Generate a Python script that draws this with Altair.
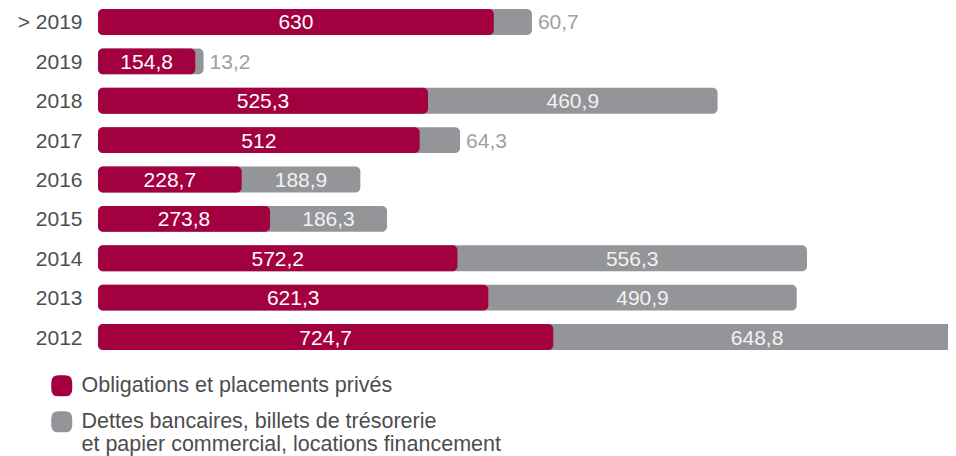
import altair as alt
import pandas as pd

categories = ["> 2019", "2019", "2018", "2017", "2016", "2015", "2014", "2013", "2012"]
obligations = [630, 154.8, 525.3, 512, 228.7, 273.8, 572.2, 621.3, 724.7]
dettes = [60.7, 13.2, 460.9, 64.3, 188.9, 186.3, 556.3, 490.9, 648.8]

S1 = "Obligations et placements privés"
S2 = "Dettes bancaires, billets de trésorerie\net papier commercial, locations financement"
RED = "#A3003F"
GREY = "#949599"
FONT = "Liberation Sans"


def fr(v):
    return f"{v:g}".replace(".", ",")


wide = pd.DataFrame({
    "cat": categories,
    "oblig": obligations,
    "dettes": dettes,
    "lab_o": [fr(v) for v in obligations],
    "lab_d": [fr(v) for v in dettes],
})

rows = []
for c, o, d in zip(categories, obligations, dettes):
    rows.append({"cat": c, "serie": S2, "xend": o + d})
for c, o, d in zip(categories, obligations, dettes):
    rows.append({"cat": c, "serie": S1, "xend": o})
long = pd.DataFrame(rows)

xscale = alt.Scale(domain=[0, 1353], nice=False, zero=True)
yenc = alt.Y("cat:N", sort=categories,
             scale=alt.Scale(paddingInner=0.34, paddingOuter=0),
             axis=alt.Axis(title=None, domain=False, ticks=False, labelPadding=16,
                           labelOffset=1.5,
                           labelFontSize=21, labelColor="#4d4d4d", labelFont=FONT))

SYMBOL = ("M -0.3 -1 H 0.3 Q 1 -1 1 -0.3 V 0.3 Q 1 1 0.3 1 H -0.3 "
          "Q -1 1 -1 0.3 V -0.3 Q -1 -1 -0.3 -1 Z")

bars = alt.Chart(long).mark_bar(cornerRadius=5, clip=True).encode(
    x=alt.X("xend:Q", scale=xscale, axis=None, stack=None),
    y=yenc,
    color=alt.Color("serie:N",
                    scale=alt.Scale(domain=[S1, S2], range=[RED, GREY]),
                    legend=alt.Legend(title=None, orient="none", legendX=-47, legendY=366,
                                      symbolType=SYMBOL,
                                      symbolSize=441, symbolStrokeWidth=0, symbolOpacity=1,
                                      labelFontSize=21.5, labelFont=FONT, labelColor="#4d4d4d",
                                      labelOffset=9, rowPadding=13, padding=0,
                                      labelLimit=700,
                                      labelExpr="split(datum.label, '\\n')")),
)

base = alt.Chart(wide)

lab_red = base.mark_text(color="white", fontSize=21, font=FONT, align="center", baseline="middle", dy=1.5).transform_calculate(
    xm="datum.oblig / 2"
).encode(x=alt.X("xm:Q", scale=xscale), y=alt.Y("cat:N", sort=categories), text="lab_o:N")

lab_grey_in = base.mark_text(color="#f2f2f2", fontSize=21, font=FONT, align="center", baseline="middle", dy=1.5).transform_filter(
    "datum.dettes >= 100"
).transform_calculate(
    xm="datum.oblig + datum.dettes / 2"
).encode(x=alt.X("xm:Q", scale=xscale), y=alt.Y("cat:N", sort=categories), text="lab_d:N")

lab_grey_out = base.mark_text(color="#a0a0a0", fontSize=21, font=FONT, align="left", baseline="middle", dx=6, dy=1.5).transform_filter(
    "datum.dettes < 100"
).transform_calculate(
    xm="datum.oblig + datum.dettes"
).encode(x=alt.X("xm:Q", scale=xscale), y=alt.Y("cat:N", sort=categories), text="lab_d:N")

chart = alt.layer(bars, lab_red, lab_grey_in, lab_grey_out).properties(
    width=850, height=341,
    autosize=alt.AutoSizeParams(type="none"),
    padding={"left": 90, "top": 1, "right": 0, "bottom": 106},
).configure(font=FONT).configure_view(stroke=None)

chart.save("out.html", embed_options={"renderer": "svg", "actions": False})
